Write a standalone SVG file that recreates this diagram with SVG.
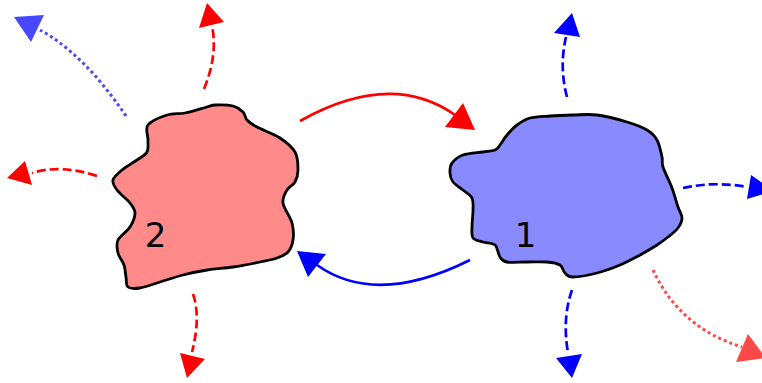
<svg xmlns="http://www.w3.org/2000/svg" width="762" height="383" viewBox="0 0 762 383">
<style>
.blob{stroke:#000;stroke-width:2.8;stroke-linejoin:round}
.lbl{font-family:"DejaVu Sans",sans-serif;font-size:34px;fill:#000;text-anchor:middle}
.c{fill:none;stroke-width:2.7}
.red{stroke:#ff0000}
.blue{stroke:#0000ff}
.dash{stroke-dasharray:9,4}
.dot{stroke-width:3;stroke-dasharray:3,3}
.lred{stroke:#ff4848}
.lblue{stroke:#4848ff}
.hr{fill:#ff0000}
.hb{fill:#0000ff}
.hlr{fill:#ff4848}
.hlb{fill:#4848ff}
</style>
<g id="node2">
<path class="blob" fill="#ff8a8a" d="M148,125 C151.2,120.8 160.8,117 167,115 C173.2,113 178.3,114.3 185,113 C191.7,111.7 202,108.3 207,107 C212,105.7 210.7,105.2 215,105 C219.3,104.8 228.3,104.8 233,106 C237.7,107.2 240.7,109.7 243,112 C245.3,114.3 244.7,117.5 247,120 C249.3,122.5 251.5,124 257,127 C262.5,130 273.7,133.8 280,138 C286.3,142.2 292,146.7 295,152 C298,157.3 298,165 298,170 C298,175 296.8,178.7 295,182 C293.2,185.3 289,186.5 287,190 C285,193.5 282.2,197.5 283,203 C283.8,208.5 290.3,216.8 292,223 C293.7,229.2 293.7,235.2 293,240 C292.3,244.8 290.7,249 288,252 C285.3,255 281.7,256.3 277,258 C272.3,259.7 267.3,260.5 260,262 C252.7,263.5 241.8,265.7 233,267 C224.2,268.3 215.3,268.7 207,270 C198.7,271.3 190.8,273 183,275 C175.2,277 167.2,279.8 160,282 C152.8,284.2 145.3,287.2 140,288 C134.7,288.8 130.3,288.8 128,287 C125.7,285.2 126.7,280.7 126,277 C125.3,273.3 125.3,269 124,265 C122.7,261 119,257.2 118,253 C117,248.8 116,244.3 118,240 C120,235.7 127.2,231.5 130,227 C132.8,222.5 135,217 135,213 C135,209 133,206.8 130,203 C127,199.2 119.8,193.8 117,190 C114.2,186.2 112.2,183.3 113,180 C113.8,176.7 118,173.3 122,170 C126,166.7 132.8,163 137,160 C141.2,157 145.2,155.3 147,152 C148.8,148.7 147.8,144.5 148,140 C148.2,135.5 144.8,129.2 148,125 Z"/>
<text class="lbl" x="155.5" y="246.5">2</text>
</g>
<g id="node1">
<path class="blob" fill="#8a8aff" d="M450,173 C449.8,169.8 449.8,166 452,163 C454.2,160 457.8,156.8 463,155 C468.2,153.2 477.7,152.8 483,152 C488.3,151.2 492.2,151.2 495,150 C497.8,148.8 498,147.5 500,145 C502,142.5 504.2,138.3 507,135 C509.8,131.7 513.2,127.8 517,125 C520.8,122.2 524.5,119.5 530,118 C535.5,116.5 542.8,116.5 550,116 C557.2,115.5 565.2,115.2 573,115 C580.8,114.8 588,113.8 597,115 C606,116.2 618.7,119.5 627,122 C635.3,124.5 642,127 647,130 C652,133 654.5,135.5 657,140 C659.5,144.5 661,152.5 662,157 C663,161.5 661.3,161.8 663,167 C664.7,172.2 669.5,181.3 672,188 C674.5,194.7 676.3,202 678,207 C679.7,212 682,214.5 682,218 C682,221.5 680.3,224.8 678,228 C675.7,231.2 671.5,234.2 668,237 C664.5,239.8 661.7,242 657,245 C652.3,248 646.2,251.7 640,255 C633.8,258.3 627.2,262 620,265 C612.8,268 604.8,271 597,273 C589.2,275 578.3,277 573,277 C567.7,277 567.2,275 565,273 C562.8,271 563,266.8 560,265 C557,263.2 552.5,262.5 547,262 C541.5,261.5 533.7,262 527,262 C520.3,262 511.5,262.8 507,262 C502.5,261.2 502,259.8 500,257 C498,254.2 497.8,247.5 495,245 C492.2,242.5 486.7,243.2 483,242 C479.3,240.8 474.8,240.5 473,238 C471.2,235.5 472,231.7 472,227 C472,222.3 473,214.8 473,210 C473,205.2 473.7,201.3 472,198 C470.3,194.7 466.2,192.7 463,190 C459.8,187.3 455.2,184.8 453,182 C450.8,179.2 450.2,176.2 450,173 Z"/>
<text class="lbl" x="525.5" y="247">1</text>
</g>
<g id="connectors">
<path class="c red" d="M300,121 Q391,70 455,115"/>
<polygon class="hr" points="475,130 445,127 463,103"/>
<path class="c blue" d="M470,260 Q376,307 317,265"/>
<polygon class="hb" points="297,251 326,254 308,277"/>
<path class="c red dash" d="M204,89 Q218,55 212,26"/>
<polygon class="hr" points="207,3 199,28 224,22"/>
<path class="c lblue dot" d="M126,116 Q84,54 40,30"/>
<polygon class="hlb" points="14,17 44,15 31,42"/>
<path class="c red dash" d="M97,176 Q60,164 32,173"/>
<polygon class="hr" points="7,178 25,161 32,185"/>
<path class="c red dash" d="M193,294 Q201,317 192,352"/>
<polygon class="hr" points="180,353 205,359 187,378"/>
<path class="c blue dash" d="M567,97 Q559,67 566,37"/>
<polygon class="hb" points="572,13 554,33 580,37"/>
<path class="c blue dash" d="M683,188 Q715,181 747,187"/>
<polygon class="hb" points="751,175 747,199 774,191"/>
<path class="c blue dash" d="M572,290 Q562,318 568,353"/>
<polygon class="hb" points="556,358 582,354 572,378"/>
<path class="c lred dot" d="M653,270 Q680,328 742,347"/>
<polygon class="hlr" points="748,334 736,362 766,358"/>
</g>
</svg>
